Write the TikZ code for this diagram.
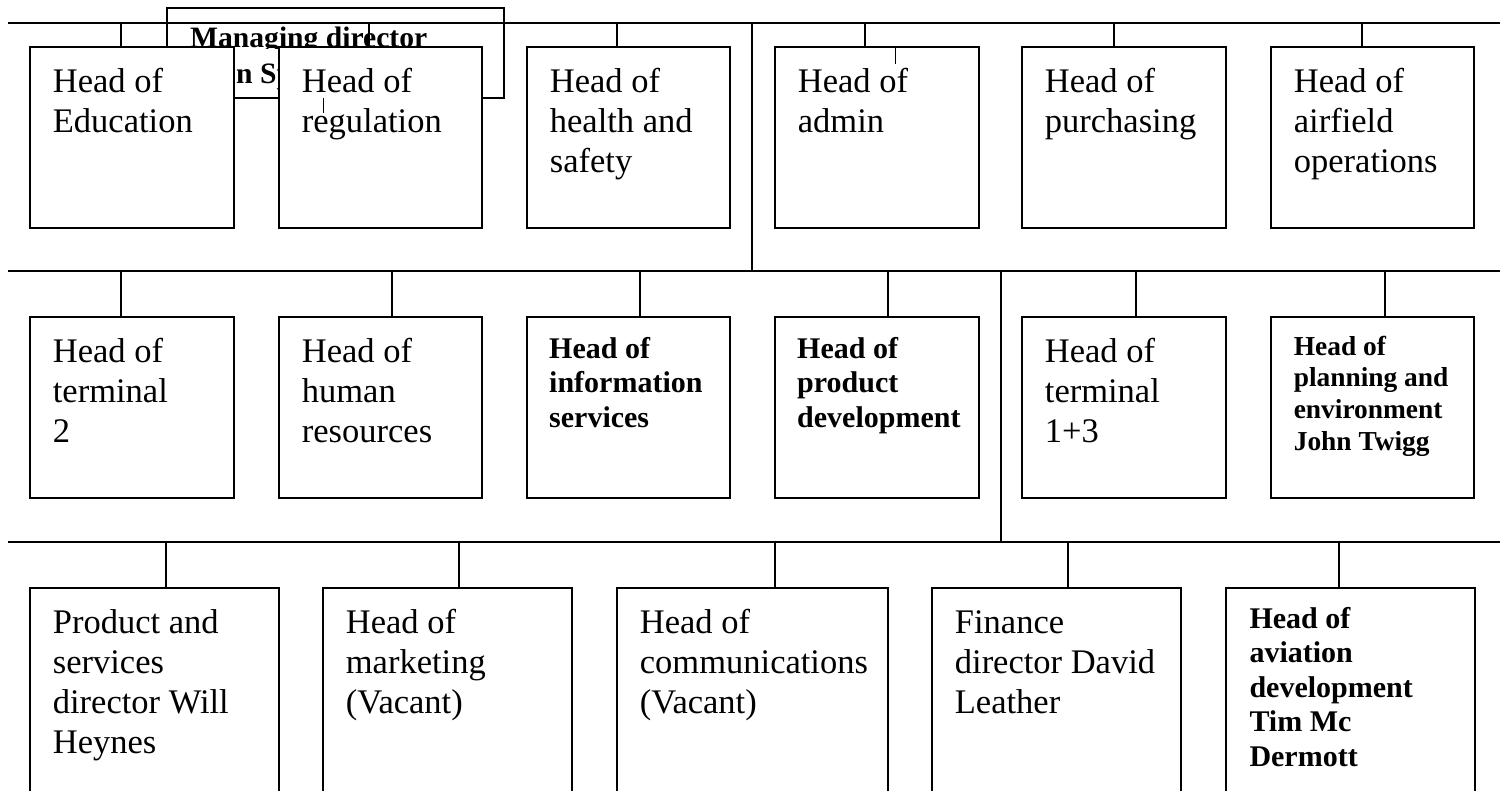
\documentclass[tikz,border=0pt]{standalone}
\usepackage{fontspec}
\setmainfont{Liberation Serif}
\newcommand\boxlines[1]{\begin{tabular}[t]{@{}l@{}}#1\end{tabular}}
\begin{document}
\begin{tikzpicture}[x=1pt,y=-1pt,
  ln/.style={line width=1.4pt},
  tick/.style={line width=1pt},
  box/.style={draw, fill=white, line width=1.4pt, inner sep=0pt, outer sep=0pt, rectangle},
  reg/.style={anchor=base west, inner sep=0pt, font=\fontsize{34.5}{40}\selectfont},
  bld/.style={anchor=base west, inner sep=0pt, font=\fontsize{30}{34.5}\selectfont\bfseries},
  bls/.style={anchor=base west, inner sep=0pt, font=\fontsize{27.4}{31.7}\selectfont\bfseries},
  mdt/.style={anchor=base west, inner sep=0pt, font=\fontsize{29.6}{36}\selectfont\bfseries},
]
\useasboundingbox (0,0) rectangle (1504,790);
\clip (0,0) rectangle (1504,790);

% managing director box (mostly hidden)
\node[draw, line width=1.4pt, inner sep=0pt, outer sep=0pt, minimum width=337pt, minimum height=90pt] (md) at (335.5,53) {};
\begin{scope}
  \clip (167,8) rectangle (504,48);
  \node[mdt] (md1) at (190,47.6) {Managing director};
\end{scope}
\node[mdt] (md2) at (236,83.5) {n Sp};

% bus lines
\coordinate (topL) at (8,23);   \coordinate (topR) at (1500,23);
\coordinate (midL) at (8,271);  \coordinate (midR) at (1500,271);
\coordinate (lowL) at (8,542);  \coordinate (lowR) at (1500,542);
\coordinate (j1) at (752,23);   \coordinate (j2) at (1001,271);
\draw[ln] (topL) -- (topR);
\draw[ln] (midL) -- (midR);
\draw[ln] (lowL) -- (lowR);
\draw[ln] (j1) -- (j1 |- midL);
\draw[ln] (j2) -- (j2 |- lowL);

% row 1 boxes
\node[box, minimum width=204pt, minimum height=181pt] (b1) at (132,137.5) {};
\node[box, minimum width=203pt, minimum height=181pt] (b2) at (380.5,137.5) {};
\node[box, minimum width=203pt, minimum height=181pt] (b3) at (628.5,137.5) {};
\node[box, minimum width=204pt, minimum height=181pt] (b4) at (877,137.5) {};
\node[box, minimum width=204pt, minimum height=181pt] (b5) at (1124,137.5) {};
\node[box, minimum width=203pt, minimum height=181pt] (b6) at (1372.5,137.5) {};
% row 2 boxes
\node[box, minimum width=204pt, minimum height=181pt] (b7) at (132,407.5) {};
\node[box, minimum width=203pt, minimum height=181pt] (b8) at (380.5,407.5) {};
\node[box, minimum width=203pt, minimum height=181pt] (b9) at (628.5,407.5) {};
\node[box, minimum width=204pt, minimum height=181pt] (b10) at (877,407.5) {};
\node[box, minimum width=204pt, minimum height=181pt] (b11) at (1124,407.5) {};
\node[box, minimum width=203pt, minimum height=181pt] (b12) at (1372.5,407.5) {};
% row 3 boxes
\node[box, minimum width=249pt, minimum height=222pt] (b13) at (154.5,699) {};
\node[box, minimum width=249pt, minimum height=222pt] (b14) at (447.5,699) {};
\node[box, minimum width=271pt, minimum height=222pt] (b15) at (752.5,699) {};
\node[box, minimum width=249pt, minimum height=222pt] (b16) at (1056.5,699) {};
\node[box, minimum width=249pt, minimum height=222pt] (b17) at (1350.5,699) {};

% connectors row 1
\foreach \b/\dx in {b1/-11, b2/-11.5, b3/-11.5, b4/-12, b5/-10, b6/-10.5}
  \draw[ln] ([xshift=\dx pt]\b.north) -- ([xshift=\dx pt]\b.north |- topL);
% connectors row 2
\foreach \b/\dx in {b7/-11, b8/11.5, b9/11.5, b10/11, b11/12, b12/12.5}
  \draw[ln] ([xshift=\dx pt]\b.north) -- ([xshift=\dx pt]\b.north |- midL);
% connectors row 3
\foreach \b/\dx in {b13/11.5, b14/11.5, b15/22.5, b16/11.5, b17/-11.5}
  \draw[ln] ([xshift=\dx pt]\b.north) -- ([xshift=\dx pt]\b.north |- lowL);

% texts row 1
\node[reg] (t1) at ([shift={(22.7,45)}]b1.north west) {\boxlines{Head of\\Education}};
\node[reg] (t2) at ([shift={(22.7,45)}]b2.north west) {\boxlines{Head of\\regulation}};
\node[reg] (t3) at ([shift={(22.7,45)}]b3.north west) {\boxlines{Head of\\health and\\safety}};
\node[reg] (t4) at ([shift={(22.7,45)}]b4.north west) {\boxlines{Head of\\admin}};
\node[reg] (t5) at ([shift={(22.7,45)}]b5.north west) {\boxlines{Head of\\purchasing}};
\node[reg] (t6) at ([shift={(22.7,45)}]b6.north west) {\boxlines{Head of\\airfield\\operations}};
% texts row 2
\node[reg] (t7) at ([shift={(22.7,45)}]b7.north west) {\boxlines{Head of\\terminal\\2}};
\node[reg] (t8) at ([shift={(22.7,45)}]b8.north west) {\boxlines{Head of\\human\\resources}};
\node[bld] (t9) at ([shift={(22,41)}]b9.north west) {\boxlines{Head of\\information\\services}};
\node[bld] (t10) at ([shift={(22,41)}]b10.north west) {\boxlines{Head of\\product\\development}};
\node[reg] (t11) at ([shift={(22.7,45)}]b11.north west) {\boxlines{Head of\\terminal\\1+3}};
\node[bls] (t12) at ([shift={(22.6,38)}]b12.north west) {\boxlines{Head of\\planning and\\environment\\John Twigg}};
% texts row 3
\node[reg] (t13) at ([shift={(22.7,45)}]b13.north west) {\boxlines{Product and\\services\\director Will\\Heynes}};
\node[reg] (t14) at ([shift={(22.7,45)}]b14.north west) {\boxlines{Head of\\marketing\\(Vacant)}};
\node[reg] (t15) at ([shift={(22.7,45)}]b15.north west) {\boxlines{Head of\\communications\\(Vacant)}};
\node[reg] (t16) at ([shift={(22.7,45)}]b16.north west) {\boxlines{Finance\\director David\\Leather}};
\node[bld] (t17) at ([shift={(23.3,40)}]b17.north west) {\boxlines{Head of\\aviation\\development\\Tim Mc\\Dermott}};

% stray ticks
\draw[tick] (md.south -| 323,0) -- ++(0,15);
\draw[tick] (b4.north -| 895,0) -- ++(0,17);
\end{tikzpicture}
\end{document}
